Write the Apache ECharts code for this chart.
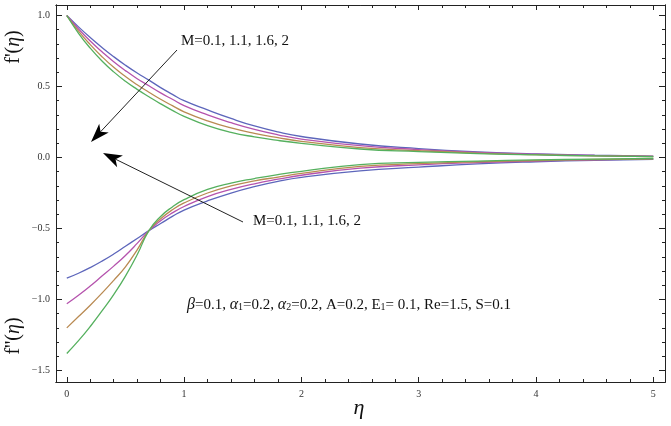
<!DOCTYPE html>
<html><head><meta charset="utf-8">
<script src="https://cdn.jsdelivr.net/npm/echarts@6/dist/echarts.min.js"></script>
<style>html,body{margin:0;padding:0;background:#fff}#c{width:671px;height:426px}</style>
</head><body><div id="c"></div>
<script>
// ---- data ----
const eta = [0,0.1,0.2,0.3,0.4,0.5,0.6,0.7,0.8,0.9,1.0,1.2,1.4,1.6,1.8,2.0,2.5,3,3.5,4,4.5,5];
const mLabels = ['M=0.1','M=1.1','M=1.6','M=2'];
// f'(eta)
const fp_M01 = [1,0.92,0.845,0.775,0.71,0.65,0.595,0.545,0.492,0.445,0.40,0.335,0.275,0.222,0.18,0.148,0.095,0.063,0.04,0.025,0.016,0.01];
const fp_M11 = [1,0.905,0.82,0.745,0.675,0.612,0.555,0.505,0.455,0.41,0.365,0.3,0.245,0.198,0.16,0.13,0.083,0.056,0.036,0.023,0.014,0.008];
const fp_M16 = [1,0.89,0.795,0.71,0.635,0.57,0.512,0.46,0.41,0.365,0.322,0.258,0.208,0.17,0.14,0.114,0.07,0.048,0.031,0.02,0.012,0.007];
const fp_M2  = [1,0.875,0.77,0.68,0.603,0.537,0.48,0.428,0.378,0.332,0.29,0.224,0.177,0.145,0.12,0.1,0.06,0.042,0.028,0.018,0.011,0.006];
// f''(eta)
const fpp_M01 = [-0.85,-0.815,-0.775,-0.73,-0.68,-0.625,-0.57,-0.515,-0.465,-0.415,-0.37,-0.305,-0.25,-0.205,-0.168,-0.14,-0.094,-0.068,-0.045,-0.03,-0.02,-0.013];
const fpp_M11 = [-1.03,-0.97,-0.905,-0.835,-0.765,-0.69,-0.605,-0.515,-0.445,-0.39,-0.345,-0.275,-0.225,-0.185,-0.153,-0.125,-0.075,-0.052,-0.036,-0.025,-0.017,-0.01];
const fpp_M16 = [-1.2,-1.12,-1.04,-0.955,-0.865,-0.77,-0.65,-0.515,-0.432,-0.368,-0.32,-0.25,-0.2,-0.165,-0.138,-0.112,-0.063,-0.043,-0.03,-0.021,-0.014,-0.009];
const fpp_M2  = [-1.38,-1.29,-1.19,-1.08,-0.965,-0.835,-0.685,-0.515,-0.415,-0.348,-0.297,-0.225,-0.18,-0.148,-0.12,-0.097,-0.05,-0.035,-0.025,-0.017,-0.012,-0.007];
// ticks
const xTickLabels = [0,1,2,3,4,5];
const yTickLabels = [-1.5,-1.0,-0.5,0.0,0.5,1.0];

// ---- styling ----
const colors = ['#5d66bb','#b553ad','#b98a52','#55b05e'];
const SERIF = '"Liberation Serif","DejaVu Serif",serif';
const X_MIN = -0.092, X_MAX = 5.10, Y_MIN = -1.581, Y_MAX = 1.074;

const xMinor = [], yMinor = [];
for (let i = 0; i <= 25; i++) xMinor.push(+(i * 0.2).toFixed(2));
for (let i = -15; i <= 10; i++) yMinor.push(+(i * 0.1).toFixed(2));

function xAxisDef(pos, ticks, len, labels) {
  return {
    type: 'value', position: pos, min: X_MIN, max: X_MAX,
    axisLine: { show: true, onZero: false, lineStyle: { color: '#222', width: 1 } },
    splitLine: { show: false },
    axisTick: { show: true, inside: true, length: len, customValues: ticks, lineStyle: { color: '#222', width: 1 } },
    axisLabel: labels ? { show: true, customValues: ticks, formatter: v => String(Math.round(v)),
      fontFamily: SERIF, fontSize: 10, color: '#333', margin: 7 } : { show: false }
  };
}
function yAxisDef(pos, ticks, len, labels) {
  return {
    type: 'value', position: pos, min: Y_MIN, max: Y_MAX,
    axisLine: { show: true, onZero: false, lineStyle: { color: '#222', width: 1 } },
    splitLine: { show: false },
    axisTick: { show: true, inside: true, length: len, customValues: ticks, lineStyle: { color: '#222', width: 1 } },
    axisLabel: labels ? { show: true, customValues: ticks, formatter: v => v.toFixed(1).replace('-', '\u2212'),
      fontFamily: SERIF, fontSize: 10, color: '#333', margin: 6 } : { show: false }
  };
}

const fpSets = [fp_M01, fp_M11, fp_M16, fp_M2];
const fppSets = [fpp_M01, fpp_M11, fpp_M16, fpp_M2];
const series = [];
fpSets.forEach((arr, i) => series.push({
  name: mLabels[i] + " f'", type: 'line', xAxisIndex: 0, yAxisIndex: 0, showSymbol: false, smooth: true,
  lineStyle: { color: colors[i], width: 1.3 }, data: eta.map((e, k) => [e, arr[k]])
}));
fppSets.forEach((arr, i) => series.push({
  name: mLabels[i] + " f''", type: 'line', xAxisIndex: 0, yAxisIndex: 0, showSymbol: false, smooth: true,
  lineStyle: { color: colors[i], width: 1.3 }, data: eta.map((e, k) => [e, arr[k]])
}));

function arrow(x1, y1, x2, y2) {
  const dx = x2 - x1, dy = y2 - y1, L = Math.hypot(dx, dy);
  const ux = dx / L, uy = dy / L, nx = -uy, ny = ux;
  const hl = 19, hw = 6.5, notch = 5;
  const bx = x2 - ux * hl, by = y2 - uy * hl;
  return [
    { type: 'line', z: 50, shape: { x1: x1, y1: y1, x2: x2 - ux * (hl - notch), y2: y2 - uy * (hl - notch) },
      style: { stroke: '#222', lineWidth: 1 } },
    { type: 'polygon', z: 50, shape: { points: [[x2, y2], [bx + nx * hw, by + ny * hw],
      [x2 - ux * (hl - notch), y2 - uy * (hl - notch)], [bx - nx * hw, by - ny * hw]] },
      style: { fill: '#000' } }
  ];
}

const graphic = [
  { type: 'text', z: 50, x: 14, y: 47, rotation: Math.PI / 2,
    style: { text: "f'({i|η})", rich: { i: { fontStyle: 'italic', fontFamily: SERIF, fontSize: 20, fill: '#111' } },
      font: '20px ' + SERIF, fill: '#111', align: 'center', verticalAlign: 'middle' } },
  { type: 'text', z: 50, x: 14, y: 336, rotation: Math.PI / 2,
    style: { text: "f''({i|η})", rich: { i: { fontStyle: 'italic', fontFamily: SERIF, fontSize: 20, fill: '#111' } },
      font: '20px ' + SERIF, fill: '#111', align: 'center', verticalAlign: 'middle' } },
  { type: 'text', z: 50, x: 359, y: 408,
    style: { text: 'η', font: 'italic 22px ' + SERIF, fill: '#111', align: 'center', verticalAlign: 'middle' } },
  { type: 'text', z: 50, x: 181, y: 41,
    style: { text: 'M=0.1, 1.1, 1.6, 2', font: '15px ' + SERIF, fill: '#111', align: 'left', verticalAlign: 'middle' } },
  { type: 'text', z: 50, x: 253, y: 221,
    style: { text: 'M=0.1, 1.1, 1.6, 2', font: '15px ' + SERIF, fill: '#111', align: 'left', verticalAlign: 'middle' } },
  { type: 'text', z: 50, x: 187, y: 305,
    style: {
      text: '{i|β}=0.1, {i|α}{s|1}=0.2, {i|α}{s|2}=0.2, A=0.2, E{s|1}= 0.1, Re=1.5, S=0.1',
      font: '15px ' + SERIF, fill: '#111', align: 'left', verticalAlign: 'middle',
      rich: {
        i: { fontStyle: 'italic', fontFamily: SERIF, fontSize: 16, fill: '#111' },
        s: { fontFamily: SERIF, fontSize: 10, fill: '#111', padding: [5, 0, 0, 0] }
      }
    } }
].concat(arrow(177, 50, 91, 142)).concat(arrow(243, 222, 103, 153));

const chart = echarts.init(document.getElementById('c'), null, { renderer: 'canvas' });
chart.setOption({
  animation: false,
  backgroundColor: '#fff',
  grid: { left: 56, right: 6, top: 5, bottom: 44, containLabel: false },
  xAxis: [
    xAxisDef('bottom', xTickLabels, 5, true),
    xAxisDef('top', xTickLabels, 5, false),
    xAxisDef('bottom', xMinor, 3, false),
    xAxisDef('top', xMinor, 3, false)
  ],
  yAxis: [
    yAxisDef('left', yTickLabels, 6, true),
    yAxisDef('right', yTickLabels, 6, false),
    yAxisDef('left', yMinor, 3, false),
    yAxisDef('right', yMinor, 3, false)
  ],
  series: series,
  graphic: graphic
});
</script>
</body></html>
